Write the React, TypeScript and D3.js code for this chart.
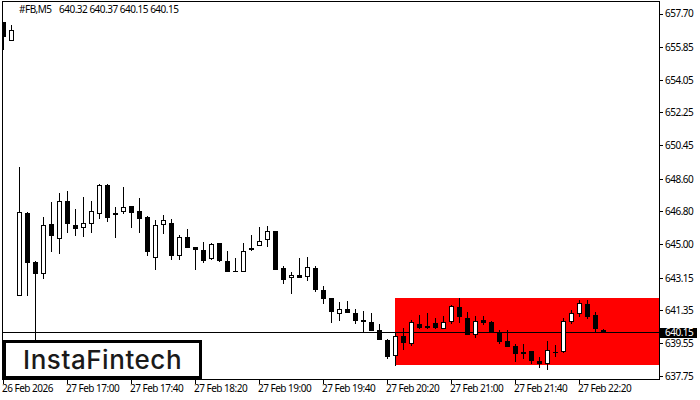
import React from "react";
import * as d3 from "d3";

const opens = [657.26,656.21,642.16,646.73,644.03,643.37,646.13,645.30,647.39,646.07,645.91,646.13,646.68,648.28,646.73,646.79,647.12,646.84,646.51,644.25,646.07,646.18,644.36,645.41,644.86,644.70,644.20,645.08,644.09,643.54,643.48,644.81,644.92,645.25,645.74,643.70,643.15,643.32,643.21,643.70,642.49,642.05,641.17,641.44,641.22,640.84,640.73,640.29,639.74,638.85,639.96,639.52,640.62,640.51,640.67,640.34,640.73,641.55,640.95,640.01,640.84,640.73,640.18,639.68,639.41,639.07,639.13,638.58,638.41,639.07,639.07,640.73,641.17,641.72,641.11,640.32];
const highs = [657.26,657.09,649.27,646.79,644.09,646.51,647.34,647.84,647.95,646.95,647.62,647.39,648.33,648.33,647.06,648.17,647.12,647.56,646.57,646.35,646.62,646.40,645.52,645.85,644.86,645.14,645.08,645.08,644.64,644.25,645.08,645.52,645.96,646.02,645.74,643.81,643.48,644.25,644.31,643.81,642.71,642.05,641.83,641.89,641.44,641.33,641.22,640.62,639.79,640.18,640.40,640.84,641.11,641.22,640.95,641.06,641.66,642.05,641.28,641.06,641.06,640.78,640.29,640.29,639.52,639.52,639.13,638.80,639.68,639.46,640.95,641.39,641.94,641.94,641.28,640.37];
const lows = [655.72,656.21,642.16,642.16,639.68,643.10,644.59,644.48,645.63,645.47,645.41,645.63,646.40,646.24,645.36,646.68,645.91,645.63,644.36,643.59,645.58,644.14,644.14,644.81,643.59,643.98,644.14,644.03,643.48,643.48,643.48,644.64,644.92,644.86,643.59,642.82,642.27,643.15,642.99,642.38,641.72,640.67,640.78,641.22,640.62,640.18,640.23,639.74,638.69,638.30,639.18,639.41,640.34,640.34,640.34,640.34,640.62,640.67,640.01,639.85,640.56,640.18,639.52,639.35,638.52,638.69,638.41,638.19,638.08,638.80,639.02,640.62,641.00,640.89,640.18,640.15];
const closes = [656.43,656.82,646.79,643.98,643.37,646.07,645.47,647.39,646.13,645.85,646.18,646.84,648.28,646.46,646.62,647.06,646.73,646.40,644.59,646.07,646.35,644.36,645.41,644.81,644.70,644.09,645.03,644.09,643.48,643.48,644.64,644.70,645.19,645.74,643.59,643.04,643.32,643.15,643.76,642.49,642.00,641.28,641.44,641.22,640.78,640.73,640.23,639.74,638.80,639.96,639.57,640.73,640.40,640.40,640.40,640.73,641.61,641.00,640.01,640.78,640.67,640.18,639.63,639.35,638.96,638.96,638.58,638.41,639.18,639.07,640.78,641.22,641.78,641.00,640.34,640.15];

const priceTicks = [657.70,655.85,654.05,652.25,650.45,648.60,646.80,645.00,643.15,641.35,639.55,637.75];
const timeLabels = ["26 Feb 2026","27 Feb 17:00","27 Feb 17:40","27 Feb 18:20","27 Feb 19:00","27 Feb 19:40","27 Feb 20:20","27 Feb 21:00","27 Feb 21:40","27 Feb 22:20"];
const timeTickBars = [0,8,16,24,32,40,48,56,64,72];
const symbol = "#FB,M5";
const lastPrice = 640.15;
const patternHigh = 642.05;
const patternLow = 638.35;
const patternStartBar = 49;

const FONT = "'Noto Sans', sans-serif";
const SIZE = 10;
const SPACING = -0.5;

export default function App() {
  const x = d3.scaleLinear().domain([0, 75]).range([3.5, 603.5]);
  const y = d3.scaleLinear().domain([637.75, 657.7]).range([376.3, 14]);
  const ry = (p: number) => Math.round(y(p));
  const left = 2, right = 659, top = 1, bottom = 379;
  const lastY = Math.floor(y(lastPrice)) + 0.5;
  return (
    <svg width={700} height={400} viewBox="0 0 700 400" style={{ position: "absolute", left: 0, top: 0, display: "block", background: "#fff" }} fontFamily={FONT}>
      <defs>
        <clipPath id="plot"><rect x={left} y={top} width={right - left} height={bottom - top} /></clipPath>
      </defs>
      <g shapeRendering="crispEdges">
        <rect x={x(patternStartBar) - 0.5} y={ry(patternHigh)} width={right - x(patternStartBar) + 0.5} height={ry(patternLow) - ry(patternHigh)} fill="#ff0000" />
        <line x1={left} x2={right} y1={lastY} y2={lastY} stroke="#000" />
        <g clipPath="url(#plot)">
          {opens.map((o, i) => {
            const c = closes[i];
            const bull = c > o;
            const t = ry(Math.max(o, c));
            const b = ry(Math.min(o, c));
            const cx = x(i);
            return (
              <g key={i}>
                <line x1={cx} x2={cx} y1={ry(highs[i])} y2={ry(lows[i])} stroke="#000" />
                {b - t <= 1 ? (
                  <line x1={cx - 2.5} x2={cx + 2.5} y1={t + 0.5} y2={t + 0.5} stroke="#000" />
                ) : bull ? (
                  <rect x={cx - 2} y={t + 0.5} width={4} height={b - t - 1} fill="#fff" stroke="#000" />
                ) : (
                  <rect x={cx - 2.5} y={t} width={5} height={b - t} fill="#000" />
                )}
              </g>
            );
          })}
        </g>
        <rect x={left + 0.5} y={top + 0.5} width={right - left} height={bottom - top} fill="none" stroke="#000" />
        {priceTicks.map((p) => (
          <line key={p} x1={right} x2={right + 4} y1={Math.floor(y(p)) + 0.5} y2={Math.floor(y(p)) + 0.5} stroke="#000" />
        ))}
        {timeTickBars.map((b) => (
          <line key={b} x1={x(b)} x2={x(b)} y1={bottom} y2={bottom + 5} stroke="#000" />
        ))}
        <rect x={4.5} y={341.5} width={196} height={36} fill="#fff" stroke="#000" strokeWidth={3} />
        <rect x={660} y={328} width={37} height={10} fill="#000" />
      </g>
      <g fontSize={SIZE} letterSpacing={SPACING} fill="#000">
        <text x={19} y={13}>{symbol}</text>
        <text x={59} y={13}>{[opens[75], highs[75], lows[75], closes[75]].map((v) => v.toFixed(2)).join(" ")}</text>
        {priceTicks.map((p) => (
          <text key={p} x={665} y={y(p) + 3.4}>{p.toFixed(2)}</text>
        ))}
        <text x={665} y={336.2} fill="#fff">{lastPrice.toFixed(2)}</text>
        {timeLabels.map((l, i) => (
          <text key={l} x={x(timeTickBars[i]) - 1.5} y={392.3}>{l}</text>
        ))}
      </g>
      <text x={23} y={369} fontSize={26} fontWeight={500} letterSpacing={0.55} fontFamily="Inter, sans-serif" fill="#1a1a1a">InstaFintech</text>
    </svg>
  );
}
